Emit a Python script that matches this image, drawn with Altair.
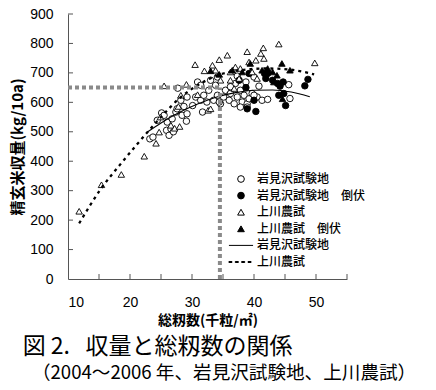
import altair as alt
import pandas as pd

W, H = 279, 265

# ---- data ----
iw_x = [23.2, 23.7, 25.1, 25.5, 25.9, 26.3, 26.6, 27.0, 27.4, 27.6, 27.7, 28.4, 28.7, 29.1, 29.2, 30.1,
        30.6, 30.9, 31.4, 31.7, 31.9, 32.4, 32.7, 33.5, 33.8, 34.1, 34.6, 35.1, 35.4, 36.0, 36.2, 36.8,
        37.0, 37.3, 37.8, 38.1, 38.4, 38.9, 39.2, 38.7, 39.7, 40.0, 40.5, 40.8, 41.3, 42.2, 45.6, 45.8,
        31.4, 29.2, 33.0, 34.1, 36.2, 37.3, 26.0, 26.8, 28.2, 24.4, 34.4, 40.0, 37.8, 38.9]
iw_y = [476, 482, 564, 556, 505, 488, 510, 500, 567, 578, 648, 556, 586, 536, 561, 589,
        618, 669, 607, 567, 624, 601, 641, 607, 658, 624, 595, 618, 641, 607, 630, 595,
        664, 618, 641, 601, 624, 595, 612, 669, 630, 686, 618, 655, 607, 610, 660, 613,
        658, 618, 675, 686, 653, 689, 533, 544, 607, 539, 601, 624, 584, 584]

iwl_x = [37.6, 38.7, 39.2, 38.9, 40.0, 40.3, 41.9, 42.2, 43.0, 43.8, 44.0, 44.7, 44.8, 45.1, 48.2, 48.7, 41.7, 44.2]
iwl_y = [675, 650, 698, 578, 607, 569, 681, 698, 675, 664, 624, 669, 630, 589, 656, 678, 698, 655]

kam_x = [11.8, 15.4, 18.6, 22.3, 24.2, 24.7, 25.5, 26.6, 27.2, 28.0, 27.8, 28.2, 24.9, 29.1, 30.5, 32.6,
         33.0, 30.9, 32.0, 33.3, 33.8, 34.4, 35.7, 34.6, 36.2, 37.0, 37.6, 38.9, 39.2, 40.3, 40.5, 41.1,
         41.5, 41.6, 44.0, 49.8, 36.8, 36.2, 39.7, 37.8]
kam_y = [230, 320, 355, 417, 461, 499, 656, 522, 512, 518, 586, 624, 550, 661, 728, 573,
         578, 626, 707, 726, 709, 745, 760, 675, 703, 720, 681, 772, 737, 743, 681, 766,
         785, 749, 798, 734, 647, 675, 703, 715]

kaml_x = [33.0, 34.4, 36.5, 38.1, 39.4, 41.3, 42.2, 43.0, 43.7, 44.5, 44.6, 45.8, 43.2]
kaml_y = [707, 695, 709, 703, 732, 709, 715, 703, 692, 732, 612, 709, 669]

iw_fit_x = [22.8, 25, 28, 31, 34, 37, 40, 43, 46, 49]
iw_fit_y = [499, 530, 566, 595, 618, 633, 641, 642, 635, 619]

kam_fit_x = [11.8, 15.3, 18.5, 21.2, 25.0, 28.2, 31.4, 34.1, 36.8, 39.5, 42.2, 45.9, 49.7]
kam_fit_y = [189, 306, 391, 459, 550, 618, 664, 692, 706, 713, 715, 711, 695]

ref_x = 34.5
ref_y = 650
x_min, x_max = 10, 55
y_min, y_max = 0, 900
x_tick_values = [15, 20, 25, 30, 35, 40, 45, 50, 55]
x_label_values = [10, 20, 30, 40, 50]
y_tick_values = [100, 200, 300, 400, 500, 600, 700, 800, 900]
y_label_values = [0, 100, 200, 300, 400, 500, 600, 700, 800, 900]

keys = ["iw", "iw_l", "kam", "kam_l", "iw_fit", "kam_fit"]
names = ["岩見沢試験地", "岩見沢試験地　倒伏", "上川農試", "上川農試　倒伏", "岩見沢試験地", "上川農試"]

# ---- tables ----
rows = []
for k, xs_, ys_ in [("iw", iw_x, iw_y), ("iw_l", iwl_x, iwl_y), ("kam", kam_x, kam_y), ("kam_l", kaml_x, kaml_y)]:
    rows += [{"x": a, "y": b, "s": k} for a, b in zip(xs_, ys_)]
pts = pd.DataFrame(rows)
iw_fit = pd.DataFrame({"x": iw_fit_x, "y": iw_fit_y})
kam_fit = pd.DataFrame({"x": kam_fit_x, "y": kam_fit_y})
href = pd.DataFrame({"x": [x_min], "x2": [ref_x], "y": [ref_y]})
vref = pd.DataFrame({"x": [ref_x], "y": [y_min], "y2": [ref_y]})
xt = pd.DataFrame({"x": x_tick_values})
yt = pd.DataFrame({"y": y_tick_values})

FONT_JP = "Noto Sans CJK JP"
xs = alt.Scale(domain=[x_min, x_max], nice=False, zero=False)
ys = alt.Scale(domain=[y_min, y_max], nice=False, zero=False)

x_axis = alt.Axis(values=x_label_values, ticks=False, grid=False, domainColor="#555", labelOverlap=False,
                  labelFont="Liberation Sans", labelFontSize=14, labelColor="black", labelPadding=16,
                  title="総籾数(千粒/㎡)", titleFont=FONT_JP, titleFontSize=14, titleFontWeight="bold",
                  titleColor="black", titlePadding=4)
y_axis = alt.Axis(values=y_label_values, ticks=False, grid=False, domainColor="#555", labelOverlap=False,
                  labelFont="Liberation Sans", labelFontSize=14, labelColor="black", labelPadding=15,
                  title="精玄米収量(kg/10a)", titleFont=FONT_JP, titleFontSize=15, titleFontWeight="bold",
                  titleColor="black", titlePadding=4)

X = alt.X("x:Q", scale=xs, axis=x_axis)
Y = alt.Y("y:Q", scale=ys, axis=y_axis)

solid_sym = "M-3.6,0H3.6"
dash_sym = ("M-3.6,-0.15H-2.7V0.15H-3.6Z M-1.7,-0.15H-0.8V0.15H-1.7Z "
            "M0.2,-0.15H1.1V0.15H0.2Z M2.1,-0.15H3.0V0.15H2.1Z")
shapes = ["circle", "circle", "triangle-up", "triangle-up", solid_sym, dash_sym]
fills = ["white", "black", "white", "black", "transparent", "black"]
strokes = ["black"] * 6

label_expr = "{" + ",".join(f"'{k}':'{n}'" for k, n in zip(keys, names)) + "}[datum.label]"
legend = alt.Legend(title=None, orient="none", legendX=167, legendY=159, padding=0,
                    labelExpr=label_expr, labelFont=FONT_JP, labelFontSize=12, labelFontWeight=500,
                    labelColor="black", labelOffset=10, symbolSize=45, symbolStrokeColor="black",
                    symbolStrokeWidth=1, rowPadding=4.6)

points = alt.Chart(pts).mark_point(filled=True, strokeWidth=0.9, size=42, opacity=1).encode(
    x=X, y=Y,
    shape=alt.Shape("s:N", scale=alt.Scale(domain=keys, range=shapes), legend=legend),
    fill=alt.Fill("s:N", scale=alt.Scale(domain=keys, range=fills), legend=legend),
    stroke=alt.Stroke("s:N", scale=alt.Scale(domain=keys, range=strokes), legend=legend),
)

line_iw = alt.Chart(iw_fit).mark_line(color="black", strokeWidth=1.1, interpolate="monotone").encode(x=X, y=Y)
line_kam = alt.Chart(kam_fit).mark_line(color="black", strokeWidth=2.3, strokeDash=[3, 4],
                                        interpolate="monotone").encode(x=X, y=Y)

gray = "#8a8a8a"
h_rule = alt.Chart(href).mark_rule(color=gray, strokeWidth=4, strokeDash=[4, 3], strokeCap="butt").encode(
    x=X, x2="x2:Q", y=Y)
v_rule = alt.Chart(vref).mark_rule(color=gray, strokeWidth=4, strokeDash=[4, 3], strokeCap="butt").encode(
    x=X, y=Y, y2="y2:Q")

x_ticks = alt.Chart(xt).mark_rule(color="#555", strokeWidth=1).encode(
    x=X, y=alt.value(H - 5), y2=alt.value(H))
y_ticks = alt.Chart(yt).mark_rule(color="#555", strokeWidth=1).encode(
    y=Y, x=alt.value(0), x2=alt.value(5))

chart = alt.layer(points, line_iw, line_kam, h_rule, v_rule, x_ticks, y_ticks).properties(
    width=W, height=H,
    padding={"left": 2, "top": -1, "right": 0, "bottom": 0},
    title=alt.TitleParams(
        text="図 2.\u00a0\u00a0\u00a0収量と総籾数の関係",
        subtitle="\u200b　（2004～2006 年、岩見沢試験地、上川農試）",
        orient="bottom", anchor="start", frame="bounds", dx=12, offset=9,
        font=FONT_JP, fontSize=23, fontWeight="normal", color="black",
        subtitleFont=FONT_JP, subtitleFontSize=18.6, subtitleColor="black", subtitlePadding=5,
    ),
).configure_view(strokeWidth=0)

chart.save("out.html", embed_options={"renderer": "svg", "actions": False})
